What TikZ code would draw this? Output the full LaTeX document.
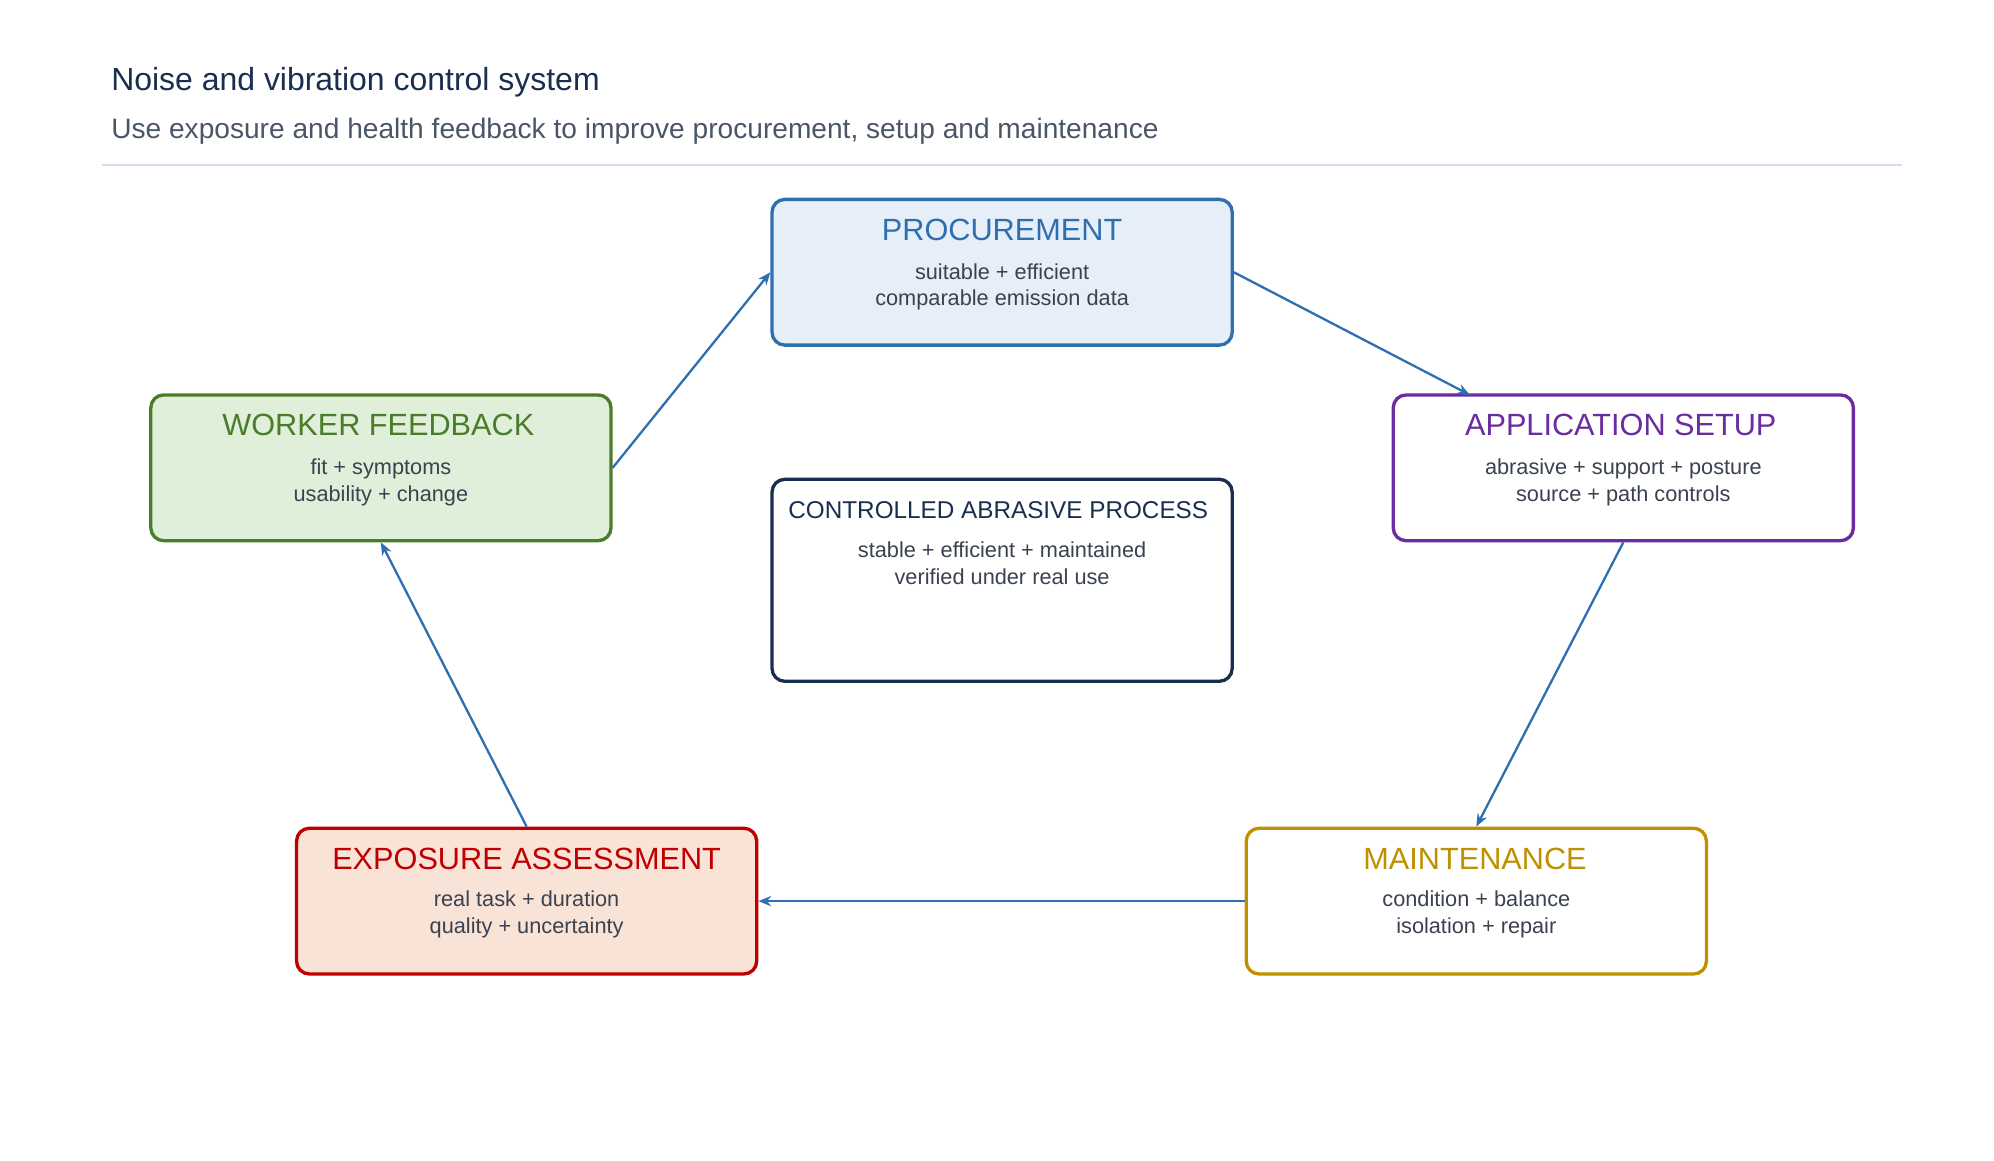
\documentclass[tikz,border=0pt]{standalone}
\usepackage{fontspec}
\setmainfont{Liberation Sans}
\usetikzlibrary{arrows.meta}
\definecolor{navy}{HTML}{1A2E4F}
\definecolor{sub}{HTML}{4A5568}
\definecolor{pblue}{HTML}{2E6FB0}\definecolor{pfill}{HTML}{E6EFF7}
\definecolor{wgreen}{HTML}{4A7D2A}\definecolor{wfill}{HTML}{E0EFD9}
\definecolor{apurple}{HTML}{6A2C9E}
\definecolor{ered}{HTML}{C00000}\definecolor{efill}{HTML}{F9E2D6}
\definecolor{mgold}{HTML}{BF9000}
\definecolor{rule}{HTML}{D6DCF0}
\definecolor{body}{HTML}{3A4250}
\begin{document}
\begin{tikzpicture}[x=0.5pt,y=-0.5pt,
  box/.style={draw,line width=1.3pt,rounded corners=5pt,minimum width=180pt,minimum height=57pt,inner sep=0pt},
  ttl/.style={font=\fontsize{12}{14}\selectfont,anchor=base},
  bod/.style={font=\fontsize{8.5}{10.5}\selectfont,text=body,align=center,anchor=north},
  arr/.style={draw=pblue,line width=0.9pt,-{Stealth[length=5pt,width=4pt]}}]
\useasboundingbox (0,0) rectangle (1560,908);
\node[anchor=base west,text=navy,font=\fontsize{12.5}{15}\selectfont] (t) at (80,71) {Noise and vibration control system};
\node[anchor=base west,text=sub,font=\fontsize{11}{13}\selectfont] (s) at (80,108) {Use exposure and health feedback to improve procurement, setup and maintenance};
\draw[rule,line width=1pt] (80,129) coordinate (l1) -- (1488,129) coordinate (l2);
% boxes
\node[box,draw=pblue,fill=pfill] (P) at (784,213) {};
\node[box,draw=wgreen,fill=wfill] (W) at (298,366) {};
\node[box,draw=apurple,fill=white] (A) at (1270,366) {};
\node[box,draw=navy,fill=white,minimum height=79pt] (C) at (784,454) {};
\node[box,draw=ered,fill=efill] (E) at (412,705) {};
\node[box,draw=mgold,fill=white] (M) at (1155,705) {};
% texts
\node[ttl,text=pblue] (Pt) at (784,188) {PROCUREMENT};
\node[bod] (Pb) at (784,199) {suitable + efficient\\comparable emission data};
\node[ttl,text=wgreen] (Wt) at (296,341) {WORKER FEEDBACK};
\node[bod] (Wb) at (298,352) {fit + symptoms\\usability + change};
\node[ttl,text=apurple] (At) at (1268,341) {APPLICATION SETUP};
\node[bod] (Ab) at (1270,352) {abrasive + support + posture\\source + path controls};
\node[ttl,text=navy,font=\fontsize{9.5}{11}\selectfont] (Ct) at (781,406) {CONTROLLED ABRASIVE PROCESS};
\node[bod] (Cb) at (784,417) {stable + efficient + maintained\\verified under real use};
\node[ttl,text=ered] (Et) at (412,680) {EXPOSURE ASSESSMENT};
\node[bod] (Eb) at (412,690) {real task + duration\\quality + uncertainty};
\node[ttl,text=mgold] (Mt) at (1154,680) {MAINTENANCE};
\node[bod] (Mb) at (1155,690) {condition + balance\\isolation + repair};
% arrows
\draw[arr] (W.east) -- (P.west);
\draw[arr] (P.east) -- (1150,309);
\draw[arr] (A.south) -- (M.north);
\draw[arr] (M.west) -- (E.east);
\draw[arr] (E.north) -- (W.south);
\end{tikzpicture}
\end{document}
